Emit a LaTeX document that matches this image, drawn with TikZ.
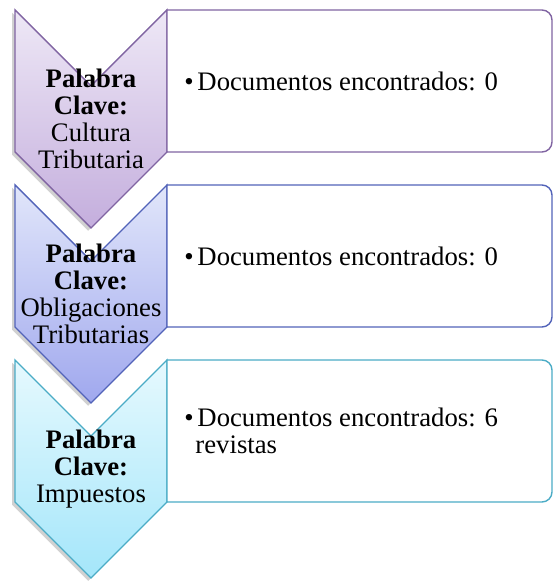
\documentclass[tikz,border=0pt]{standalone}
\usepackage{fontspec}
\setmainfont{Liberation Serif}
\usetikzlibrary{shadows}

\definecolor{lilaLine}{HTML}{8064A2}
\definecolor{lilaTop}{HTML}{EEE8F6}
\definecolor{lilaBot}{HTML}{C4AEDD}
\definecolor{azulLine}{HTML}{5263B9}
\definecolor{azulTop}{HTML}{E1E6FA}
\definecolor{azulBot}{HTML}{A0A8EE}
\definecolor{celesteLine}{HTML}{4BACC6}
\definecolor{celesteTop}{HTML}{E6F9FE}
\definecolor{celesteBot}{HTML}{A4E6FA}

\tikzset{
    chevron/.style={line width=1pt, line join=miter,
        drop shadow={shadow xshift=-0.07cm, shadow yshift=-0.07cm,
            fill=black, opacity=0.18}},
    caja/.style={line width=1pt, fill=white},
    clave/.style={align=center, text width=3.8cm, inner sep=0pt,
        font=\fontsize{19}{19.3}\selectfont},
    docs/.style={anchor=west, align=left, inner sep=0pt,
        font=\fontsize{19}{19.3}\selectfont}
}
\newcommand{\punto}{\makebox[0.33cm][l]{\textbullet}}

\begin{document}
\begin{tikzpicture}
    \useasboundingbox (0, 0) rectangle (13.825, 14.525);

    % chevrones, de abajo hacia arriba
    \draw[chevron, draw=celesteLine, top color=celesteTop, bottom color=celesteBot]
        (0.375, 5.525) -- (2.275, 3.625) -- (4.175, 5.525) -- (4.175, 1.975)
        -- (2.275, 0.075) -- (0.375, 1.975) -- cycle;
    \draw[chevron, draw=azulLine, top color=azulTop, bottom color=azulBot]
        (0.375, 9.9) -- (2.275, 8.0) -- (4.175, 9.9) -- (4.175, 6.35)
        -- (2.275, 4.45) -- (0.375, 6.35) -- cycle;
    \draw[chevron, draw=lilaLine, top color=lilaTop, bottom color=lilaBot]
        (0.375, 14.275) -- (2.275, 12.375) -- (4.175, 14.275) -- (4.175, 10.725)
        -- (2.275, 8.825) -- (0.375, 10.725) -- cycle;

    % cajas
    \draw[caja, draw=lilaLine]
        (4.175, 14.275) -- (13.55, 14.275) arc[start angle=90, end angle=0, radius=0.25]
        -- (13.8, 10.975) arc[start angle=0, end angle=-90, radius=0.25]
        -- (4.175, 10.725) -- cycle;
    \draw[caja, draw=azulLine]
        (4.175, 9.9) -- (13.55, 9.9) arc[start angle=90, end angle=0, radius=0.25]
        -- (13.8, 6.6) arc[start angle=0, end angle=-90, radius=0.25]
        -- (4.175, 6.35) -- cycle;
    \draw[caja, draw=celesteLine]
        (4.175, 5.525) -- (13.55, 5.525) arc[start angle=90, end angle=0, radius=0.25]
        -- (13.8, 2.225) arc[start angle=0, end angle=-90, radius=0.25]
        -- (4.175, 1.975) -- cycle;

    \node[clave] (clave1) at (2.275, 11.55)
        {\textbf{Palabra Clave:}\\Cultura\\Tributaria};
    \node[clave] (clave2) at (2.275, 7.175)
        {\textbf{Palabra Clave:}\\Obligaciones\\Tributarias};
    \node[clave] (clave3) at (2.275, 2.8)
        {\textbf{Palabra Clave:}\\Impuestos};

    \node[docs] (docs1) at (4.6, 12.5) {\punto Documentos encontrados: 0};
    \node[docs] (docs2) at (4.6, 8.125) {\punto Documentos encontrados: 0};
    \node[docs] (docs3) at (4.6, 3.75)
        {\punto Documentos encontrados: 6\\\hspace*{0.28cm}revistas};
\end{tikzpicture}
\end{document}
